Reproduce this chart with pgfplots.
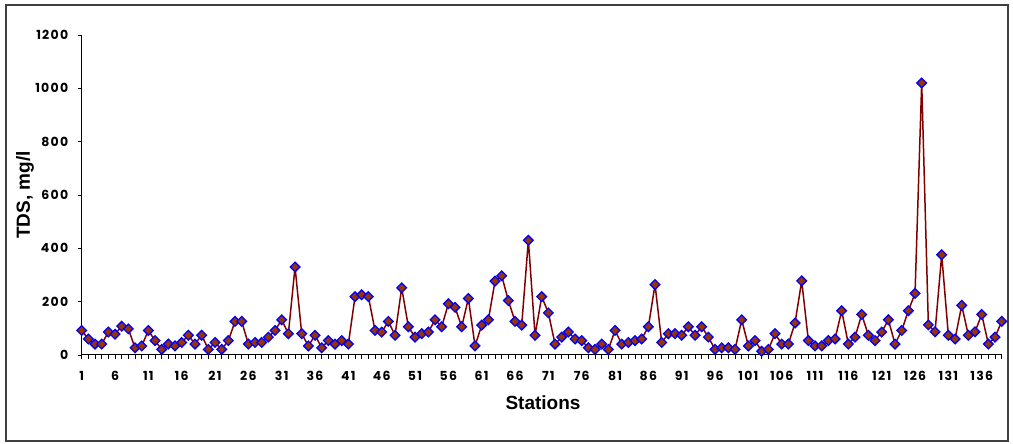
\documentclass[border=0pt]{standalone}
\usepackage{fontspec}
\setmainfont{Liberation Sans}
\newfontfamily\tickfont{Poppins}[LetterSpace=10]
\usepackage{pgfplots}
\usepackage{pgfplotstable}
\pgfplotsset{compat=1.18}

\definecolor{linered}{HTML}{800000}
\definecolor{markfill}{HTML}{993300}
\definecolor{framegray}{HTML}{404040}

% Total dissolved solids per sampling station
\pgfplotstableread{
st tds
1 92
2 60
3 41
4 41
5 86
6 78
7 108
8 98
9 27
10 34
11 92
12 54
13 21
14 41
15 34
16 47
17 74
18 41
19 74
20 21
21 47
22 21
23 54
24 126
25 126
26 41
27 47
28 47
29 67
30 92
31 132
32 80
33 330
34 80
35 34
36 74
37 27
38 54
39 41
40 54
41 41
42 219
43 226
44 219
45 92
46 86
47 126
48 74
49 252
50 106
51 67
52 80
53 86
54 132
55 106
56 192
57 179
58 106
59 212
60 34
61 112
62 132
63 277
64 297
65 204
66 126
67 112
68 430
69 74
70 219
71 158
72 41
73 67
74 86
75 60
76 54
77 27
78 21
79 41
80 21
81 92
82 41
83 47
84 54
85 60
86 106
87 264
88 47
89 80
90 80
91 74
92 106
93 74
94 106
95 67
96 21
97 27
98 27
99 21
100 132
101 34
102 54
103 14
104 21
105 80
106 41
107 41
108 120
109 278
110 54
111 34
112 34
113 54
114 60
115 166
116 41
117 67
118 152
119 74
120 54
121 86
122 132
123 41
124 92
125 166
126 231
127 1020
128 113
129 87
130 376
131 74
132 60
133 186
134 74
135 87
136 152
137 41
138 67
139 126
}\tdsdata

\begin{document}
\begin{tikzpicture}[x=1pt,y=1pt]
\useasboundingbox (0,0) rectangle (1013,444);
\draw[framegray, line width=1.3pt] (6,3) rectangle (1008,439);
\begin{axis}[
  at={(81.7pt,89pt)}, anchor=south west,
  scale only axis,
  width=920pt, height=320pt,
  xmin=1, xmax=139, ymin=0, ymax=1200,
  axis x line*=bottom, axis y line*=left,
  axis line style={black, line width=1pt},
  tick style={black, line width=0.8pt},
  tick align=outside,
  major tick length=4pt, minor tick length=4pt,
  xtick={1,6,...,136},
  minor xtick={1,...,139},
  ytick={0,200,...,1200},
  /pgf/number format/assume math mode=true,
  /pgf/number format/1000 sep={},
  ticklabel style={font=\tickfont\bfseries\fontsize{12.5}{13}\selectfont},
  xticklabel style={yshift=-9pt},
  yticklabel style={xshift=-6pt},
  xlabel={Stations},
  ylabel={TDS, mg/l},
  every axis x label/.style={at={(axis description cs:0.5014,-0.15)}, anchor=center,
    font=\bfseries\fontsize{19}{21}\selectfont},
  every axis y label/.style={at={(axis description cs:-0.0616,0.5)}, anchor=center, rotate=90,
    font=\bfseries\fontsize{19}{21}\selectfont},
  clip=false,
]
\addplot[color=linered, line width=1.5pt, mark=square*, mark size=3.4pt,
  mark options={rotate=45, fill=markfill, draw=blue, line width=1.3pt}]
  table[x=st, y=tds] {\tdsdata};
\end{axis}
\end{tikzpicture}
\end{document}
